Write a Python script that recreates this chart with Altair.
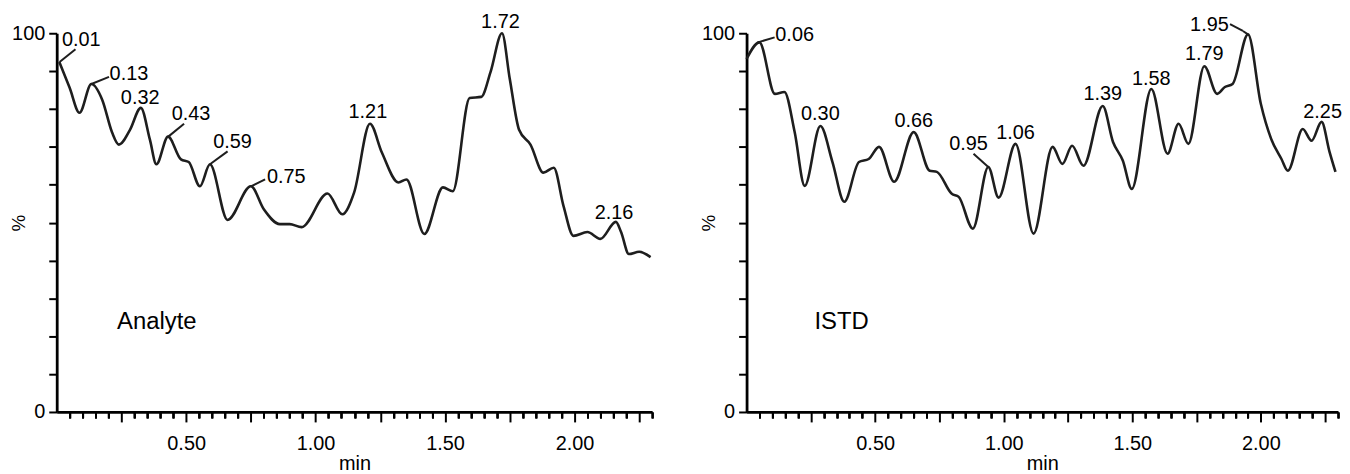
import altair as alt
import pandas as pd

# ---------------- data ----------------
analyte_t = [0.01, 0.05, 0.088, 0.134, 0.176, 0.214, 0.24, 0.283, 0.325, 0.36, 0.385, 0.43,
             0.48, 0.51, 0.553, 0.592, 0.66, 0.75, 0.80, 0.862, 0.90, 0.946, 1.046, 1.103,
             1.149, 1.21, 1.256, 1.32, 1.351, 1.42, 1.492, 1.53, 1.595, 1.64, 1.676, 1.72,
             1.75, 1.786, 1.83, 1.88, 1.92, 1.958, 1.996, 2.05, 2.10, 2.16, 2.18, 2.21,
             2.25, 2.294]
analyte_v = [92.4, 85.6, 79.0, 86.6, 82.4, 73.8, 70.6, 74.5, 80.3, 71.9, 65.4, 72.7,
             66.7, 66.0, 59.6, 65.4, 50.7, 59.6, 53.5, 49.6, 49.6, 48.8, 57.7, 52.2,
             58.0, 76.1, 68.5, 60.6, 61.4, 47.0, 59.3, 58.3, 82.9, 83.2, 89.8, 100.0,
             88.0, 74.5, 70.6, 63.2, 64.5, 54.3, 46.5, 47.5, 45.7, 50.2, 47.5, 41.7,
             42.3, 40.9]

istd_t = [0.0, 0.05, 0.11, 0.147, 0.187, 0.226, 0.287, 0.334, 0.38, 0.437, 0.475, 0.515,
          0.574, 0.65, 0.712, 0.74, 0.798, 0.825, 0.88, 0.94, 0.98, 1.046, 1.116, 1.19,
          1.228, 1.266, 1.31, 1.385, 1.425, 1.463, 1.498, 1.574, 1.637, 1.68, 1.718, 1.78,
          1.83, 1.86, 1.89, 1.95, 2.0, 2.04, 2.08, 2.105, 2.163, 2.197, 2.236, 2.267, 2.29]
istd_v = [93.2, 97.6, 84.0, 84.5, 73.9, 59.7, 75.5, 66.0, 55.5, 66.0, 66.8, 70.0,
          60.8, 73.9, 63.7, 63.4, 57.6, 56.8, 48.4, 64.7, 56.6, 70.8, 47.1, 70.0,
          65.5, 70.3, 65.0, 80.8, 71.3, 66.4, 58.9, 85.3, 68.2, 76.1, 70.8, 91.3,
          84.0, 85.8, 86.6, 99.7, 81.3, 72.1, 66.8, 63.7, 74.7, 71.6, 76.6, 68.7, 63.4]

# peak labels (text, x, y)
analyte_lbl = ["0.01", "0.13", "0.32", "0.43", "0.59", "0.75", "1.21", "1.72", "2.16"]
analyte_lbl_x = [0.095, 0.279, 0.3225, 0.519, 0.679, 0.887, 1.202, 1.714, 2.153]
analyte_lbl_y = [98.3, 89.1, 82.8, 78.7, 71.3, 62.1, 79.3, 103.0, 52.6]

istd_lbl = ["0.06", "0.30", "0.66", "0.95", "1.06", "1.39", "1.58", "1.79", "1.95", "2.25"]
istd_lbl_x = [0.187, 0.287, 0.65, 0.863, 1.046, 1.385, 1.574, 1.78, 1.80, 2.24]
istd_lbl_y = [99.6, 78.6, 76.7, 70.7, 73.7, 83.9, 88.0, 94.5, 102.2, 79.3]

# leader lines (x, y, x2, y2)
analyte_lead_x = [0.011, 0.134, 0.431, 0.592, 0.752]
analyte_lead_y = [92.4, 86.6, 72.7, 65.4, 59.6]
analyte_lead_x2 = [0.0725, 0.202, 0.492, 0.66, 0.805]
analyte_lead_y2 = [95.8, 88.5, 76.1, 68.8, 61.4]

istd_lead_x = [0.0437, 0.8825, 1.88, 1.93]
istd_lead_y = [97.6, 68.2, 102.4, 100.6]
istd_lead_x2 = [0.109, 0.94, 1.93, 1.95]
istd_lead_y2 = [98.9, 64.7, 100.6, 99.7]

x_major = [0.25, 0.50, 0.75, 1.00, 1.25, 1.50, 1.75, 2.00, 2.25]
x_minor = [0.05, 0.10, 0.15, 0.20, 0.30, 0.35, 0.40, 0.45, 0.55, 0.60,
           0.65, 0.70, 0.80, 0.85, 0.90, 0.95, 1.05, 1.10, 1.15, 1.20,
           1.30, 1.35, 1.40, 1.45, 1.55, 1.60, 1.65, 1.70, 1.80,
           1.85, 1.90, 1.95, 2.05, 2.10, 2.15, 2.20, 2.30]
y_ticks = [0, 10, 20, 30, 40, 50, 60, 70, 80, 90, 100]

FONT = "Liberation Sans"
H = 381
INK = "#1e1e1e"


def panel(t, v, lbl, lx, ly, lead, name, name_x, name_y, width):
    xs = alt.Scale(domain=[0, 2.3], nice=False, zero=False)
    ys = alt.Scale(domain=[0, 100], nice=False)
    x_axis = alt.Axis(
        values=x_major,
        labelExpr="(datum.value == 0.5 || datum.value == 1 || datum.value == 1.5 || datum.value == 2) ? format(datum.value, '.2f') : ''",
        tickSize=10, tickWidth=2, tickColor="black", domainColor="black", domainWidth=2.8,
        labelFont=FONT, labelFontSize=20, labelColor="black", labelPadding=12,
        labelOverlap=False, labelFlush=False, grid=False, orient="bottom",
        title="min", titleFont=FONT, titleFontSize=20, titleFontWeight="normal",
        titleColor="black", titleY=58, titleX=width / 2, titleBaseline="alphabetic",
    )
    x_axis_minor = alt.Axis(
        values=x_minor, tickSize=6, tickWidth=2, tickColor="black",
        domain=False, labels=False, title=None, grid=False, orient="bottom",
    )
    y_axis = alt.Axis(
        values=y_ticks,
        labelExpr="(datum.value == 0 || datum.value == 100) ? datum.label : ''",
        tickSize=8, tickWidth=2, tickColor="black", domainColor="black", domainWidth=2.8,
        labelFont=FONT, labelFontSize=20, labelColor="black", labelPadding=4,
        labelOverlap=False, labelFlush=False, grid=False,
        title="%", titleFont=FONT, titleFontSize=19, titleFontWeight="normal",
        titleColor="black", titleX=-38, titleY=H / 2, titleBaseline="middle",
        titleAlign="center",
    )
    df = pd.DataFrame({"t": t, "v": v})
    line = alt.Chart(df).mark_line(
        color=INK, strokeWidth=2.6, interpolate="monotone"
    ).encode(
        x=alt.X("t:Q", scale=xs, axis=x_axis),
        y=alt.Y("v:Q", scale=ys, axis=y_axis),
    )
    ldf = pd.DataFrame({"x": lead[0], "y": lead[1], "x2": lead[2], "y2": lead[3]})
    leaders = alt.Chart(ldf).mark_rule(color=INK, strokeWidth=2).encode(
        x=alt.X("x:Q", scale=xs, axis=x_axis_minor),
        y=alt.Y("y:Q", scale=ys, axis=y_axis), x2="x2:Q", y2="y2:Q"
    )
    tdf = pd.DataFrame({"txt": lbl, "x": lx, "y": ly})
    texts = alt.Chart(tdf).mark_text(
        font=FONT, fontSize=20, color="black", align="center", baseline="middle"
    ).encode(x=alt.X("x:Q", scale=xs, axis=x_axis_minor),
             y=alt.Y("y:Q", scale=ys, axis=y_axis), text="txt:N")
    ndf = pd.DataFrame({"txt": [name], "x": [name_x], "y": [name_y]})
    nm = alt.Chart(ndf).mark_text(
        font=FONT, fontSize=24, color="black", align="left", baseline="alphabetic"
    ).encode(x=alt.X("x:Q", scale=xs, axis=x_axis_minor),
             y=alt.Y("y:Q", scale=ys, axis=y_axis), text="txt:N")
    return alt.layer(line, leaders, texts, nm).resolve_axis(x="independent").properties(
        width=width, height=H)


left = panel(analyte_t, analyte_v, analyte_lbl, analyte_lbl_x, analyte_lbl_y,
             (analyte_lead_x, analyte_lead_y, analyte_lead_x2, analyte_lead_y2),
             "Analyte", 0.233, 21.8, 599)
right = panel(istd_t, istd_v, istd_lbl, istd_lbl_x, istd_lbl_y,
              (istd_lead_x, istd_lead_y, istd_lead_x2, istd_lead_y2),
              "ISTD", 0.264, 21.8, 595)

chart = alt.hconcat(left, right, spacing=44).properties(
    padding={"left": 2, "top": 2, "right": 0, "bottom": 0}
).configure_view(stroke=None)

chart.save("out.html", embed_options={"renderer": "svg", "actions": False})
